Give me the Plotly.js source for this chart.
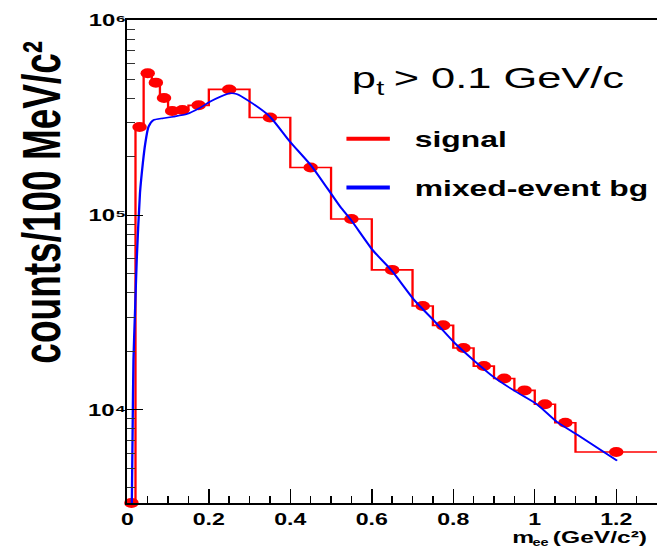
<!DOCTYPE html>
<html><head><meta charset="utf-8">
<script src="https://cdn.plot.ly/plotly-3.0.1.min.js"></script>
<style>
html,body{margin:0;padding:0;overflow:hidden;background:#fff;width:657px;height:552px;}
#chart{width:454px;height:552px;transform:scaleX(1.4471);transform-origin:0 0;}
</style></head><body><div id="chart"></div>
<script>
// signal histogram: bin edges (GeV/c^2) and counts per bin
const binEdges = [0,0.02,0.04,0.06,0.08,0.10,0.12,0.15,0.20,0.30,0.40,0.50,0.60,0.70,0.75,0.80,0.85,0.90,0.95,1.00,1.05,1.10,1.30];
const signalCounts = [3330,284000,536000,480000,400000,343000,347000,367000,443000,318000,176000,95700,52400,34200,27200,20800,16800,14500,12600,10700,8600,6080];
// mixed-event background curve
const bgMass = [0.011,0.013,0.015,0.019,0.023,0.031,0.038,0.044,0.052,0.064,0.088,0.113,0.146,0.177,0.203,0.228,0.252,0.268,0.301,0.350,0.399,0.453,0.522,0.550,0.602,0.649,0.704,0.755,0.804,0.854,0.904,0.954,1.005,1.054,1.105,1.202];
const bgCounts = [3330,8000,18000,32700,59000,130000,185000,234000,285000,308000,315000,321000,331000,355000,383000,406000,423000,420000,383000,321000,239000,178000,111000,94000,66300,51900,36700,28400,22000,17700,14500,12400,10700,8700,7440,5490];
const xTickVals = [0,0.2,0.4,0.6,0.8,1.0,1.2];
const xTickText = ['0','0.2','0.4','0.6','0.8','1','1.2'];
const yTickVals = [1e4,1e5,1e6];
const yTickText = ['10\u2074','10\u2075','10\u2076'];
const seriesNames = ['signal','mixed-event bg'];

const FONT = 'Liberation Sans, Arial, sans-serif';
const binCenters = signalCounts.map((_, i) => (binEdges[i] + binEdges[i+1]) / 2);
const stepY = signalCounts.concat([signalCounts[signalCounts.length-1]]);
const pad = '\u00a0\u00a0';

const traces = [
  {x: binEdges, y: stepY, mode:'lines', line:{shape:'hv', color:'#ff0000', width:1.6}, showlegend:false, hoverinfo:'skip'},
  {x: binCenters, y: signalCounts, mode:'markers', marker:{color:'#ff0000', size:10, symbol:'circle'}, cliponaxis:false, showlegend:false},
  {x: bgMass, y: bgCounts, mode:'lines', line:{color:'#0000ff', width:1.6, shape:'spline', smoothing:0.6}, showlegend:false},
  {x:[null], y:[null], mode:'lines', line:{color:'#ff0000', width:4}, name: pad + seriesNames[0], legendgroup:'g1'},
  {x:[null], y:[null], mode:'lines', line:{color:'#0000ff', width:4}, name: pad + seriesNames[1], legendgroup:'g2'}
];

function note(text, x, y, size, bold, extra) {
  return Object.assign({text:text, xref:'paper', yref:'paper', x:x, y:y, xanchor:'left', yanchor:'middle',
    showarrow:false, borderpad:0, borderwidth:0,
    font:{family:FONT, size:size, weight: bold ? 'bold' : 'normal', color:'#000'}}, extra || {});
}

const layout = {
  width:454, height:552,
  margin:{l:88, r:0, t:20, b:49},
  paper_bgcolor:'#ffffff', plot_bgcolor:'#ffffff',
  showlegend:true,
  legend:{x:0.40, y:0.797, xanchor:'left', yanchor:'top', traceorder:'grouped', tracegroupgap:17,
    font:{family:FONT, size:22, weight:'bold', color:'#000'}, bgcolor:'rgba(0,0,0,0)', borderwidth:0},
  xaxis:{range:[0,1.3], showgrid:false, zeroline:false, showline:true, linecolor:'#000', linewidth:2, mirror:true,
    ticks:'inside', ticklen:14, tickwidth:1, tickcolor:'#000',
    tickmode:'array', tickvals:xTickVals, ticktext:xTickText, ticklabelstandoff:1,
    tickfont:{family:FONT, size:16, weight:'bold', color:'#000'},
    minor:{dtick:0.05, tick0:0, ticks:'inside', ticklen:7, tickwidth:1, tickcolor:'#000'}},
  yaxis:{type:'log', range:[3.522,6.003], tickmode:'array', tickvals:yTickVals, ticktext:yTickText,
    showgrid:false, zeroline:false,
    showline:true, linecolor:'#000', linewidth:1.4, ticks:'inside', ticklen:11, tickwidth:1, tickcolor:'#000',
    tickfont:{family:FONT, size:16.5, weight:'bold', color:'#000'}, ticklabelstandoff:-4,
    minor:{dtick:'D1', ticks:'inside', ticklen:5.5, tickwidth:1, tickcolor:'#333'}},
  annotations:[
    note('counts/100 MeV/c\u00b2', -0.161, 0.622, 37, true, {textangle:-90, xanchor:'center'}),
    note('m', 0.726, -0.0715, 17, true),
    note('ee', 0.765, -0.0810, 10, true),
    note('(GeV/c\u00b2)', 0.8035, -0.0715, 17, true),
    note('p', 0.4243, 0.880, 30, false),
    note('t', 0.470, 0.859, 20, false),
    note('> 0.1 GeV/c', 0.5014, 0.880, 30, false)
  ]
};

Plotly.newPlot('chart', traces, layout, {staticPlot:true, displayModeBar:false}).then(function(gd){
  gd.querySelectorAll('text').forEach(function(t){ if (!t.textContent.trim()) t.remove(); });
});
</script></body></html>
